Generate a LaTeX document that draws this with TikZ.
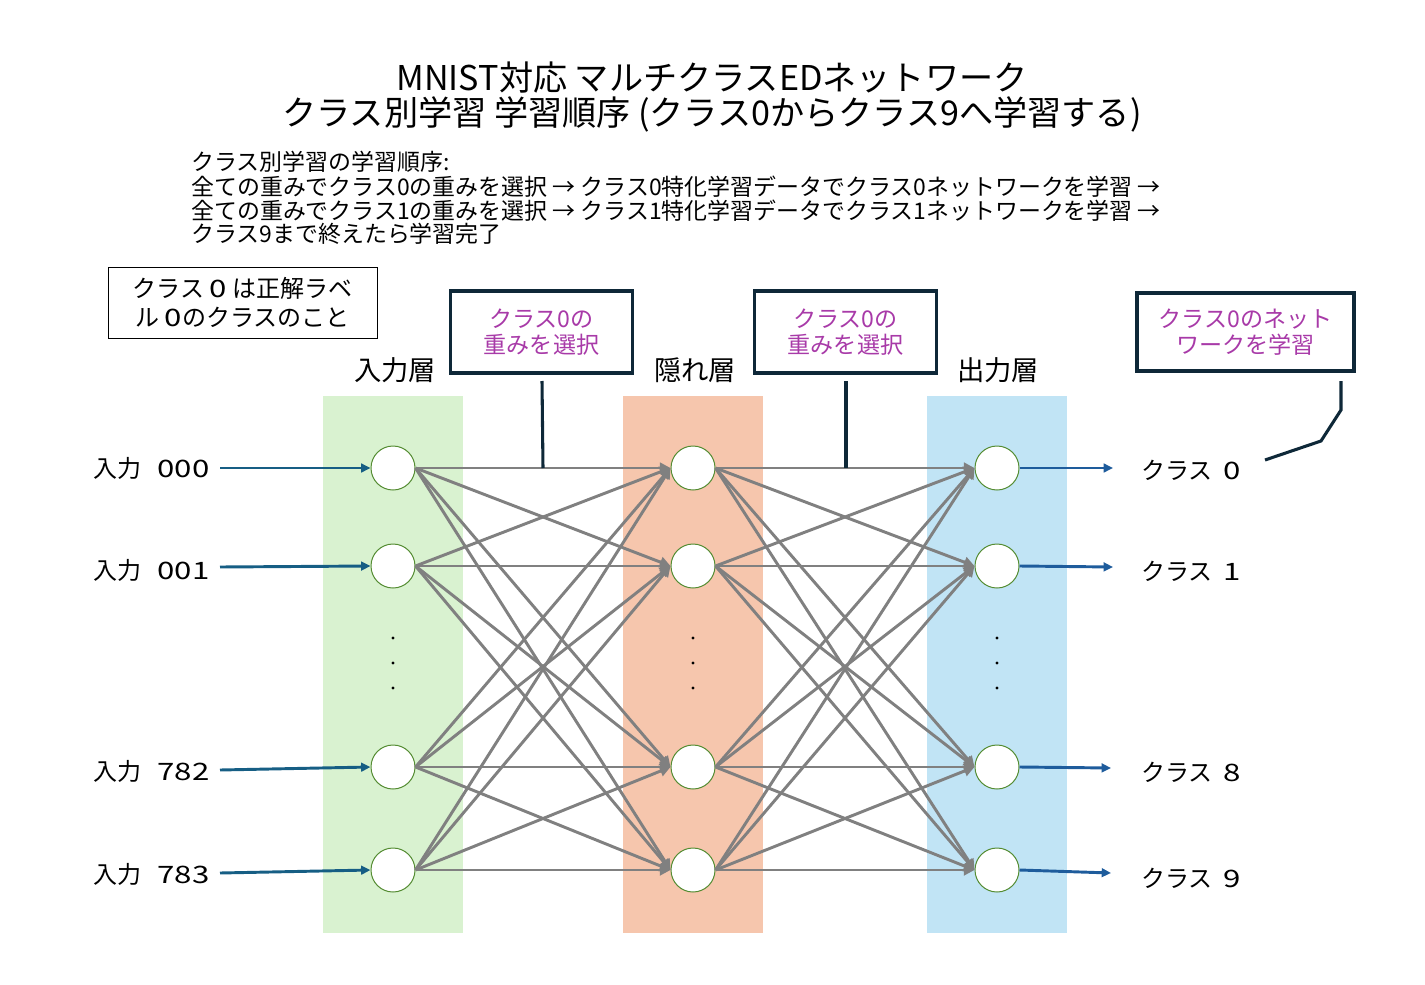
\documentclass[tikz,border=0pt]{standalone}
\usepackage{fontspec}
\setmainfont{Noto Sans CJK JP}
\newfontfamily\widedigits{Noto Sans CJK JP}[FakeStretch=1.3]
\newcommand{\wdg}[1]{{\widedigits #1}}
\usetikzlibrary{arrows.meta}
\definecolor{greenband}{RGB}{217,242,208}
\definecolor{orangeband}{RGB}{246,198,173}
\definecolor{blueband}{RGB}{193,228,245}
\definecolor{nodegreen}{RGB}{84,140,50}
\definecolor{edgegray}{RGB}{128,128,128}
\definecolor{inblue}{RGB}{22,94,132}
\definecolor{outblue}{RGB}{30,92,156}
\definecolor{boxdark}{RGB}{14,40,56}
\definecolor{purpletext}{RGB}{168,58,168}
\tikzset{
  neuron/.style={circle, draw=nodegreen, line width=0.75pt, fill=white, minimum size=33pt, inner sep=0pt},
  edge/.style={draw=edgegray, line width=2.2pt, -{Triangle[length=8pt,width=8pt]}},
  inarrow/.style={draw=inblue, line width=2.2pt, -{Triangle[length=7pt,width=6.5pt]}},
  outarrow/.style={draw=outblue, line width=2.2pt, -{Triangle[length=7pt,width=6.5pt]}},
  lbl/.style={font=\fontsize{18}{20}\selectfont, inner sep=0pt, anchor=west},
  layerlbl/.style={font=\fontsize{20.5}{22}\selectfont, inner sep=0pt},
  notebox/.style={draw=black, line width=0.75pt, align=center, inner sep=0pt, font=\fontsize{18}{21.5}\selectfont},
  selbox/.style={draw=boxdark, line width=2.3pt, align=center, inner sep=0pt, text=purpletext, font=\fontsize{17.3}{19.5}\selectfont},
  leader/.style={draw=boxdark, line width=2.3pt},
  notetext/.style={font=\fontsize{17.2}{18}\selectfont, inner sep=0pt, anchor=west},
  titletext/.style={font=\fontsize{25.6}{28}\selectfont, inner sep=0pt},
  dotmark/.style={circle, fill=black, inner sep=0pt, minimum size=2.5pt}
}
\begin{document}
\begin{tikzpicture}[x=0.75pt,y=-0.75pt]
\useasboundingbox (0,0) rectangle (1425,985);
% bands
\fill[greenband] (323,396) rectangle (463,933);
\fill[orangeband] (623,396) rectangle (763,933);
\fill[blueband] (927,396) rectangle (1067,933);
% title
\node[titletext] (t1) at (712,78) {MNIST対応 マルチクラスEDネットワーク};
\node[titletext] (t2) at (712,114) {クラス別学習 学習順序 (クラス0からクラス9へ学習する)};
% notes
\node[notetext] (n1) at (191,162) {クラス別学習の学習順序:};
\node[notetext] (n2) at (191,187) {全ての重みでクラス0の重みを選択 → クラス0特化学習データでクラス0ネットワークを学習 →};
\node[notetext] (n3) at (191,211) {全ての重みでクラス1の重みを選択 → クラス1特化学習データでクラス1ネットワークを学習 →};
\node[notetext] (n4) at (191,234) {クラス9まで終えたら学習完了};
% boxes
\node[notebox, minimum width=201.75pt, minimum height=53.25pt] (nb) at (242.5,302.5) {クラス\ \wdg{0}\ は正解ラベ\\ル \wdg{0}のクラスのこと};
\node[selbox, minimum width=137pt, minimum height=61.5pt] (sb1) at (541.5,332) {クラス0の\\重みを選択};
\node[selbox, minimum width=137pt, minimum height=61.5pt] (sb2) at (845.5,332) {クラス0の\\重みを選択};
\node[selbox, minimum width=162.75pt, minimum height=58.5pt] (sb3) at (1245.5,332) {クラス0のネット\\ワークを学習};
% layer labels
\node[layerlbl] (L1) at (395,370) {入力層};
\node[layerlbl] (L2) at (695,370) {隠れ層};
\node[layerlbl] (L3) at (998,370) {出力層};
% neurons
\foreach \n/\y in {a/468,b/566,c/767,d/870} {
  \node[neuron] (i\n) at (393,\y) {};
  \node[neuron] (h\n) at (693,\y) {};
  \node[neuron] (o\n) at (997,\y) {};
}
% dots
\foreach \x in {393,693,997} {
  \foreach \y in {638,663,688} {
    \node[dotmark] at (\x,\y) {};
  }
}
% edges
\foreach \s in {a,b,c,d} {
  \foreach \t in {a,b,c,d} {
    \draw[edge] (i\s.east) -- (h\t.west);
    \draw[edge] (h\s.east) -- (o\t.west);
  }
}
% leaders
\coordinate (l1a) at (542,381); \coordinate (l1b) at (543,468);
\coordinate (l2a) at (846,381); \coordinate (l2b) at (846,468);
\coordinate (l3a) at (1341,381); \coordinate (l3b) at (1341,410);
\coordinate (l3c) at (1321,441); \coordinate (l3d) at (1265,460);
\draw[leader] (l1a) -- (l1b);
\draw[leader] (l2a) -- (l2b);
\draw[leader] (l3a) -- (l3b) -- (l3c) -- (l3d);
% inputs
\node[lbl] (x1) at (93,468) {入力\ \ \ \wdg{000}};
\node[lbl] (x2) at (93,570) {入力\ \ \ \wdg{001}};
\node[lbl] (x3) at (93,771) {入力\ \ \ \wdg{782}};
\node[lbl] (x4) at (93,874) {入力\ \ \ \wdg{783}};
\coordinate (s1) at (220,468);
\coordinate (s2) at (220,567);
\coordinate (s3) at (220,770);
\coordinate (s4) at (220,873);
\draw[inarrow] (s1) -- (ia.west);
\draw[inarrow] (s2) -- (ib.west);
\draw[inarrow] (s3) -- (ic.west);
\draw[inarrow] (s4) -- (id.west);
% outputs
\coordinate (e1) at (1113,468);
\coordinate (e2) at (1113,567);
\coordinate (e3) at (1111,768);
\coordinate (e4) at (1111,873);
\draw[outarrow] (oa.east) -- (e1);
\draw[outarrow] (ob.east) -- (e2);
\draw[outarrow] (oc.east) -- (e3);
\draw[outarrow] (od.east) -- (e4);
\node[lbl] (y1) at (1141,470) {クラス\ \ \wdg{0}};
\node[lbl] (y2) at (1141,571) {クラス\ \ \wdg{1}};
\node[lbl] (y3) at (1141,772) {クラス\ \ \wdg{8}};
\node[lbl] (y4) at (1141,878) {クラス\ \ \wdg{9}};
\end{tikzpicture}
\end{document}
